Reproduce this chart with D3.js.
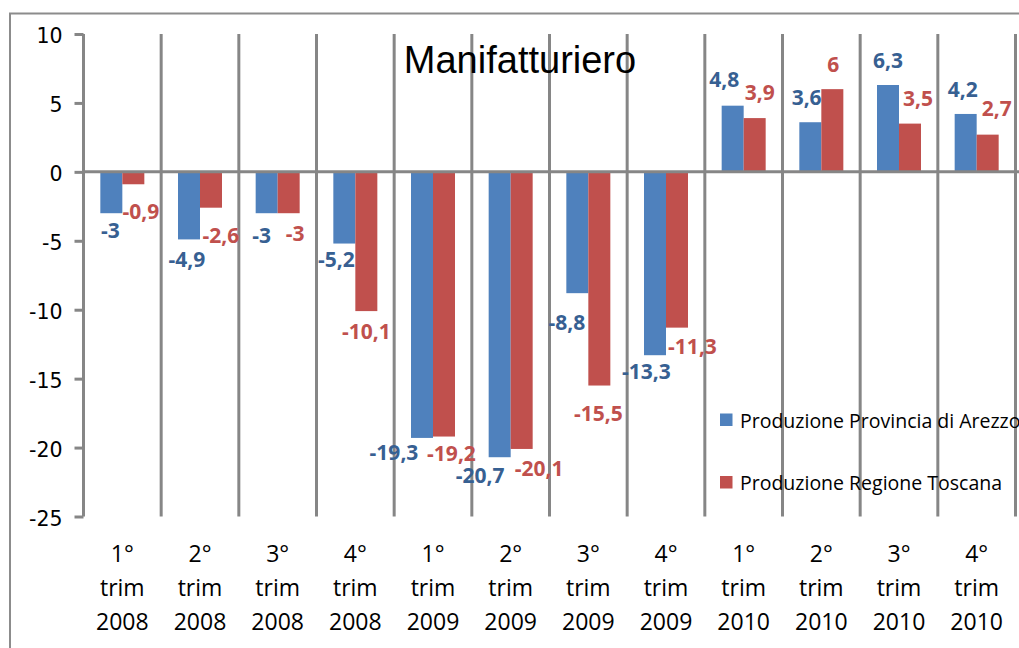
<!DOCTYPE html>
<html>
<head>
<meta charset="utf-8">
<script src="https://cdn.jsdelivr.net/npm/d3@7"></script>
<style>
  html, body { margin: 0; padding: 0; background: #fff; overflow: hidden; }
  svg { display: block; }
</style>
</head>
<body>
<svg id="chart" width="1019" height="648"></svg>
<script>
// Quarterly change in manufacturing output (%)
const categories = [
  "1° trim 2008", "2° trim 2008", "3° trim 2008", "4° trim 2008",
  "1° trim 2009", "2° trim 2009", "3° trim 2009", "4° trim 2009",
  "1° trim 2010", "2° trim 2010", "3° trim 2010", "4° trim 2010"
];
const seriesNames = ["Produzione Provincia di Arezzo", "Produzione Regione Toscana"];
const arezzo  = [-3, -4.9, -3, -5.2, -19.3, -20.7, -8.8, -13.3, 4.8, 3.6, 6.3, 4.2];
const toscana = [-0.9, -2.6, -3, -10.1, -19.2, -20.1, -15.5, -11.3, 3.9, 6, 3.5, 2.7];
const yTicks  = [10, 5, 0, -5, -10, -15, -20, -25];
const title   = "Manifatturiero";

// Hand-placed label nudges [dx, dy] from each bar's centre / end, in px
const nudgeArezzo  = [[-1,17],[-2,20],[-5,22],[-8,15.5],[-28,15],[-19.5,18.5],[-10.5,29],[-8.7,16],[-8.5,-26],[-3.7,-24.5],[0,-25],[-3,-25]];
const nudgeToscana = [[7.5,27.5],[10,28],[6.5,20],[0,20],[7.5,16.5],[17.5,19.5],[-1,28],[15.5,18.5],[5,-26],[1,-24.6],[8,-25],[9,-26]];

const colors      = ["#4F81BD", "#C0504D"];
const labelColors = ["#376092", "#C0504D"];
const gridColor   = "#868686";

const svg = d3.select("#chart");

// Outer chart frame (continues past the right / bottom edges)
svg.append("path")
  .attr("d", "M10,648 L10,13.5 L1019,13.5")
  .attr("fill", "none").attr("stroke", "#8c8c8c").attr("stroke-width", 2);

const plot = { left: 83.5, right: 1015.5, top: 34, bottom: 516.5 };

const x = d3.scaleBand().domain(categories).range([plot.left, plot.right]).padding(0);
const y = d3.scaleLinear().domain([-25, 10]).range([plot.bottom, plot.top]);
const bw = x.bandwidth();
const barW = 22;
const x1 = d3.scaleBand().domain(seriesNames)
  .range([(bw - 2 * barW) / 2, (bw + 2 * barW) / 2]).padding(0);

// Vertical gridlines at category boundaries
const g = svg.append("g");
g.selectAll("line.grid")
  .data(categories)
  .join("line")
  .attr("class", "grid")
  .attr("x1", d => x(d) + bw).attr("x2", d => x(d) + bw)
  .attr("y1", y(10)).attr("y2", y(-25))
  .attr("stroke", gridColor).attr("stroke-width", 3);

// Bars
const rows = categories.map((c, i) => ({ c, i, vals: [arezzo[i], toscana[i]] }));
const groups = svg.append("g").selectAll("g")
  .data(rows).join("g")
  .attr("transform", d => `translate(${x(d.c)},0)`);

groups.selectAll("rect")
  .data(d => d.vals.map((v, s) => ({ v, s })))
  .join("rect")
  .attr("x", d => x1(seriesNames[d.s]))
  .attr("width", x1.bandwidth())
  .attr("y", d => y(Math.max(0, d.v)))
  .attr("height", d => Math.abs(y(d.v) - y(0)))
  .attr("fill", d => colors[d.s]);

// Y axis
const yAxis = d3.axisLeft(y).tickValues(yTicks).tickSize(9).tickPadding(12)
  .tickFormat(d => String(d));
const ya = svg.append("g").attr("transform", `translate(${plot.left},0)`).call(yAxis);
ya.select(".domain").attr("stroke", gridColor).attr("stroke-width", 3)
  .attr("d", `M0,${y(10)}V${y(-25)}`);
ya.selectAll(".tick line").attr("stroke", gridColor).attr("stroke-width", 3);
ya.selectAll(".tick text")
  .attr("fill", "#000")
  .attr("font-family", "'DejaVu Sans', sans-serif")
  .attr("font-size", 20.5)
  .attr("dy", "0.42em");

// Zero line
svg.append("line")
  .attr("x1", plot.left).attr("x2", 1019)
  .attr("y1", y(0)).attr("y2", y(0))
  .attr("stroke", gridColor).attr("stroke-width", 3);

// Category labels (three lines each)
const catG = svg.append("g");
categories.forEach(c => {
  const lines = c.split(" ");
  const t = catG.append("text")
    .attr("text-anchor", "middle")
    .attr("font-family", "'Open Sans', sans-serif")
    .attr("font-size", 23)
    .attr("fill", "#000");
  lines.forEach((ln, k) => {
    t.append("tspan")
      .attr("x", x(c) + bw / 2)
      .attr("y", 561.5 + k * 34.2)
      .text(ln);
  });
});

// Data labels
const fmt = v => String(v).replace(".", ",");
const nudges = [nudgeArezzo, nudgeToscana];
rows.forEach(r => {
  r.vals.forEach((v, s) => {
    const [dx, dy] = nudges[s][r.i];
    const cx = x(r.c) + x1(seriesNames[s]) + x1.bandwidth() / 2 + dx;
    const cy = y(v) + dy;
    svg.append("text")
      .attr("x", cx).attr("y", cy)
      .attr("dy", "0.36em")
      .attr("text-anchor", "middle")
      .attr("font-family", "'Open Sans', sans-serif")
      .attr("font-weight", "bold")
      .attr("font-size", 21)
      .attr("fill", labelColors[s])
      .text(fmt(v));
  });
});

// Title
svg.append("text")
  .attr("x", 520).attr("y", 73)
  .attr("text-anchor", "middle")
  .attr("font-family", "'Liberation Sans', sans-serif")
  .attr("font-size", 38)
  .attr("fill", "#000")
  .text(title);

// Legend
const legend = svg.append("g").attr("transform", "translate(720,0)");
const legendRows = [{ y: 413.5 }, { y: 476 }];
seriesNames.forEach((name, s) => {
  const ly = legendRows[s].y;
  legend.append("rect")
    .attr("x", 0).attr("y", ly).attr("width", 12.5).attr("height", 12.5)
    .attr("fill", colors[s]);
  legend.append("text")
    .attr("x", 20).attr("y", ly + 14)
    .attr("font-family", "'Open Sans', sans-serif")
    .attr("font-size", 19.5)
    .attr("fill", "#000")
    .text(name);
});
</script>
</body>
</html>
